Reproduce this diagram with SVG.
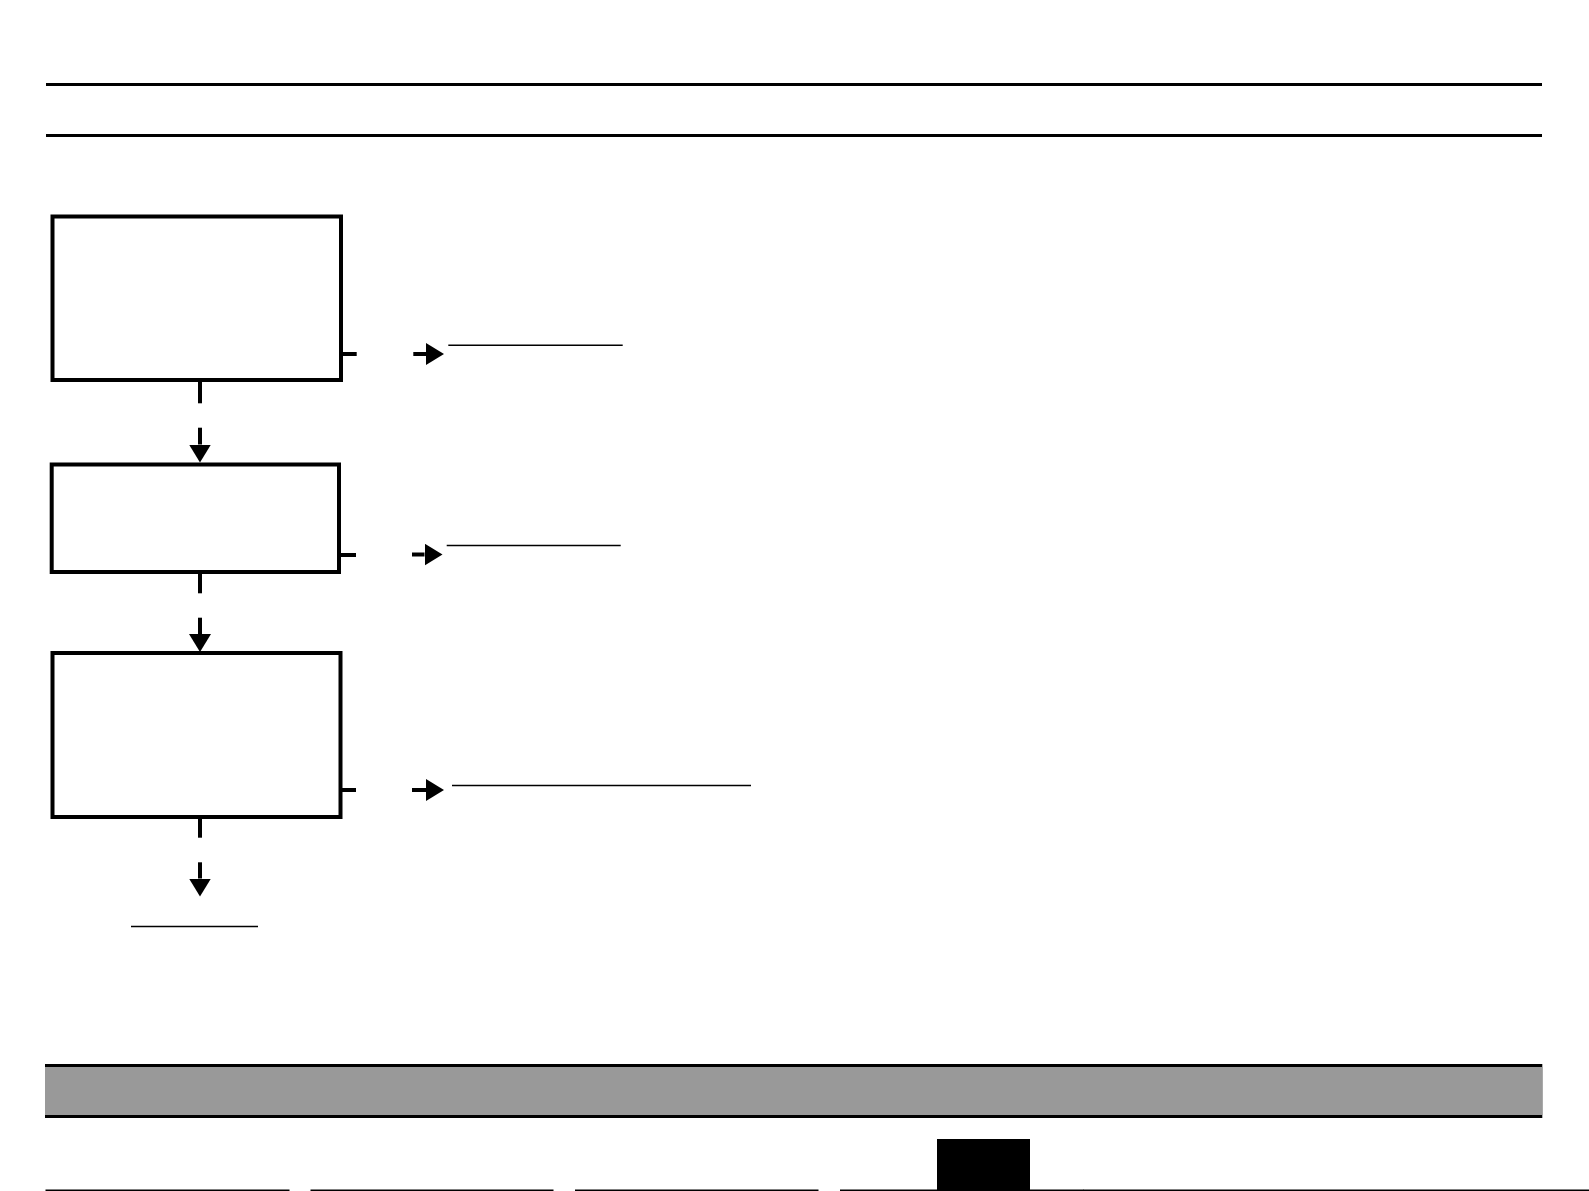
<svg xmlns="http://www.w3.org/2000/svg" width="1589" height="1191" viewBox="0 0 1589 1191">
  <style>
    .rule { stroke: #000; stroke-width: 3; fill: none; }
    .box { fill: #fff; stroke: #000; stroke-width: 4; }
    .conn { stroke: #000; stroke-width: 4; fill: none; }
    .ul { stroke: #000; stroke-width: 1.4; fill: none; }
    .foot { fill: #000; }
  </style>
  <defs>
    <marker id="ah" viewBox="0 0 18 22" refX="0" refY="11" markerWidth="18" markerHeight="22" markerUnits="userSpaceOnUse" orient="auto">
      <path d="M0,0 L18,11 L0,22 Z" fill="#000"/>
    </marker>
  </defs>
  <rect width="1589" height="1191" fill="#fff"/>

  <g id="header">
    <line class="rule" x1="46" y1="84.5" x2="1542" y2="84.5"/>
    <line class="rule" x1="46" y1="135.5" x2="1542" y2="135.5"/>
  </g>

  <g id="node1"><rect class="box" x="52.5" y="216.5" width="288.5" height="163.5"/></g>
  <g id="node2"><rect class="box" x="51.7" y="464.5" width="287.3" height="107.5"/></g>
  <g id="node3"><rect class="box" x="52.5" y="653" width="288" height="164"/></g>

  <g id="connectors">
    <line class="conn" x1="342" y1="354" x2="356.7" y2="354"/>
    <line class="conn" x1="413.3" y1="354" x2="426" y2="354" marker-end="url(#ah)"/>
    <line class="conn" x1="340" y1="555" x2="356" y2="555"/>
    <line class="conn" x1="412" y1="554.5" x2="424.5" y2="554.5" marker-end="url(#ah)"/>
    <line class="conn" x1="341" y1="790" x2="356" y2="790"/>
    <line class="conn" x1="412" y1="790" x2="426" y2="790" marker-end="url(#ah)"/>

    <line class="conn" x1="200" y1="381" x2="200" y2="403.3"/>
    <line class="conn" x1="200" y1="427.7" x2="200" y2="444.5" marker-end="url(#ah)"/>
    <line class="conn" x1="200" y1="573" x2="200" y2="593.3"/>
    <line class="conn" x1="200" y1="617.7" x2="200" y2="634" marker-end="url(#ah)"/>
    <line class="conn" x1="200" y1="818" x2="200" y2="837.7"/>
    <line class="conn" x1="200" y1="862.3" x2="200" y2="878.5" marker-end="url(#ah)"/>
  </g>

  <g id="underlines">
    <line class="ul" x1="448.3" y1="345.3" x2="622.7" y2="345.3"/>
    <line class="ul" x1="446.7" y1="545.5" x2="620.7" y2="545.5"/>
    <line class="ul" x1="452" y1="785.5" x2="751" y2="785.5"/>
    <line class="ul" x1="131" y1="926.5" x2="258" y2="926.5"/>
  </g>

  <g id="footer-bar">
    <rect x="45" y="1064" width="1497.3" height="54" fill="#000"/>
    <rect x="45" y="1067" width="1497.3" height="48" fill="#999999"/>
  </g>

  <g id="footer">
    <rect class="foot" x="937" y="1139" width="93" height="52"/>
    <rect class="foot" x="45.5" y="1189.5" width="244" height="1.5"/>
    <rect class="foot" x="310.5" y="1189.5" width="243" height="1.5"/>
    <rect class="foot" x="575" y="1189.5" width="243.5" height="1.5"/>
    <rect class="foot" x="840" y="1189.5" width="243.5" height="1.5"/>
    <rect class="foot" x="1083" y="1189.5" width="506" height="1.5"/>
  </g>
</svg>
